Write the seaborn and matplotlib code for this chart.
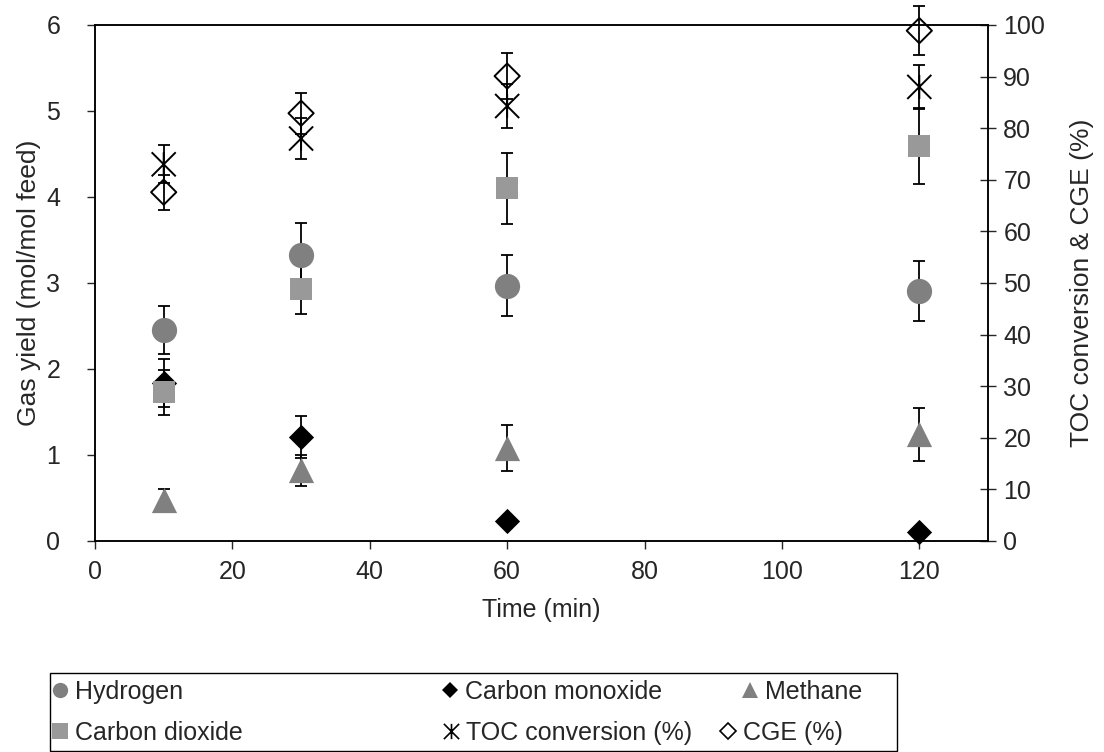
import numpy as np
import pandas as pd
import matplotlib
matplotlib.use("Agg")
import matplotlib.pyplot as plt
from matplotlib.path import Path
from matplotlib.lines import Line2D
from matplotlib.patches import Rectangle
import seaborn as sns

sns.set_theme(style="white")
plt.rcParams['font.family'] = ['Liberation Sans', 'DejaVu Sans']

# Data
time_min = [10, 30, 60, 120]

hydrogen = [2.45, 3.32, 2.97, 2.91]
hydrogen_err = [0.28, 0.38, 0.35, 0.35]

carbon_monoxide = [1.84, 1.21, 0.23, 0.11]
carbon_monoxide_err = [0.28, 0.24, 0.0, 0.0]

methane = [0.48, 0.82, 1.08, 1.24]
methane_err = [0.12, 0.18, 0.27, 0.31]

carbon_dioxide = [1.73, 2.93, 4.10, 4.59]
carbon_dioxide_err = [0.26, 0.29, 0.41, 0.44]

toc_conversion = [73.0, 78.0, 84.3, 88.0]
toc_err = [3.7, 4.0, 4.3, 4.2]

cge = [67.6, 82.9, 90.1, 98.9]
cge_err = [3.4, 4.0, 4.4, 4.8]

# Excel style "star" marker: an x with a vertical bar through it
star = Path([(-1, -1), (1, 1), (-1, 1), (1, -1), (0, -1), (0, 1)],
            [Path.MOVETO, Path.LINETO, Path.MOVETO, Path.LINETO, Path.MOVETO, Path.LINETO])

left_series = [
    ("Hydrogen", hydrogen, hydrogen_err, "o", "#808080", "#808080", 330),
    ("Carbon monoxide", carbon_monoxide, carbon_monoxide_err, "D", "black", "black", 165),
    ("Methane", methane, methane_err, "^", "#808080", "#808080", 330),
    ("Carbon dioxide", carbon_dioxide, carbon_dioxide_err, "s", "#999999", "#999999", 250),
]
right_series = [
    ("TOC conversion (%)", toc_conversion, toc_err, star, "none", "black", 300),
    ("CGE (%)", cge, cge_err, "D", "none", "black", 165),
]

fig = plt.figure(figsize=(11.04, 7.52), dpi=100)
ax = fig.add_axes([95/1104, 1-541/752, (988-95)/1104, (541-25)/752])
ax2 = ax.twinx()

def draw(axis, series):
    for name, vals, errs, mk, fc, ec, size in series:
        d = pd.DataFrame({"Time": time_min, "Value": vals, "Err": errs})
        eb = axis.errorbar(d["Time"], d["Value"], yerr=d["Err"], fmt="none", ecolor="black",
                           elinewidth=1.3, capsize=4, capthick=1.3, zorder=2)
        for art in eb.lines[1] + eb.lines[2]:
            art.set_clip_on(False)
        if fc == "none":
            sns.scatterplot(data=d, x="Time", y="Value", ax=axis, marker=mk, s=size,
                            facecolors="none", edgecolor=ec, linewidth=1.4, zorder=3,
                            clip_on=False)
        else:
            sns.scatterplot(data=d, x="Time", y="Value", ax=axis, marker=mk, s=size,
                            color=fc, edgecolor=ec, linewidth=0, zorder=3, clip_on=False)

draw(ax, left_series)
draw(ax2, right_series)

fs = 18
vfs = 19
ax.set_xlim(0, 130)
ax.set_ylim(0, 6)
ax2.set_ylim(0, 100)
ax.set_xticks([0, 20, 40, 60, 80, 100, 120])
ax.set_yticks(range(0, 7))
ax2.set_yticks(range(0, 101, 10))
ax.set_xlabel("Time (min)", fontsize=fs, labelpad=10)
ax.set_ylabel("Gas yield (mol/mol feed)", fontsize=vfs, labelpad=4)
ax2.set_ylabel("TOC conversion & CGE (%)", fontsize=vfs, labelpad=18)
ax.tick_params(axis="x", direction="out", length=6, width=1, labelsize=fs, pad=8, bottom=True)
ax.tick_params(axis="y", direction="out", length=6, width=1, labelsize=fs, pad=19, left=True)
ax2.tick_params(axis="y", direction="inout", length=12, width=1, labelsize=fs, pad=5, right=True)
for a in (ax, ax2):
    for sp in a.spines.values():
        sp.set_color("black")
        sp.set_linewidth(1.1)
    a.grid(False)

# Legend: box plus individually placed entries, laid out like the original
fig.patches.append(Rectangle((50/1104, 1-751/752), (897-50)/1104, (751-673)/752,
                             transform=fig.transFigure, fill=False, edgecolor="black",
                             linewidth=1.0))
entries = [
    ("Hydrogen", "o", "#808080", "#808080", 50, 692),
    ("Carbon monoxide", "D", "black", "black", 440, 692),
    ("Methane", "^", "#808080", "#808080", 740, 692),
    ("Carbon dioxide", "s", "#999999", "#999999", 50, 733),
    ("TOC conversion (%)", star, "none", "black", 441, 733),
    ("CGE (%)", "D", "none", "black", 718, 733),
]
for label, mk, fc, ec, px, py in entries:
    ms = 8 if mk == "D" else 11
    h = Line2D([], [], linestyle="none", marker=mk, markersize=ms,
               markerfacecolor=fc, markeredgecolor=ec, markeredgewidth=1.2 if fc == "none" else 0)
    fig.legend(handles=[h], labels=[label], loc="center left",
               bbox_to_anchor=(px/1104, 1-py/752), frameon=False, fontsize=fs,
               borderpad=0, borderaxespad=0, handlelength=0.8, handletextpad=0.2)

fig.savefig("out.png", dpi=100)
